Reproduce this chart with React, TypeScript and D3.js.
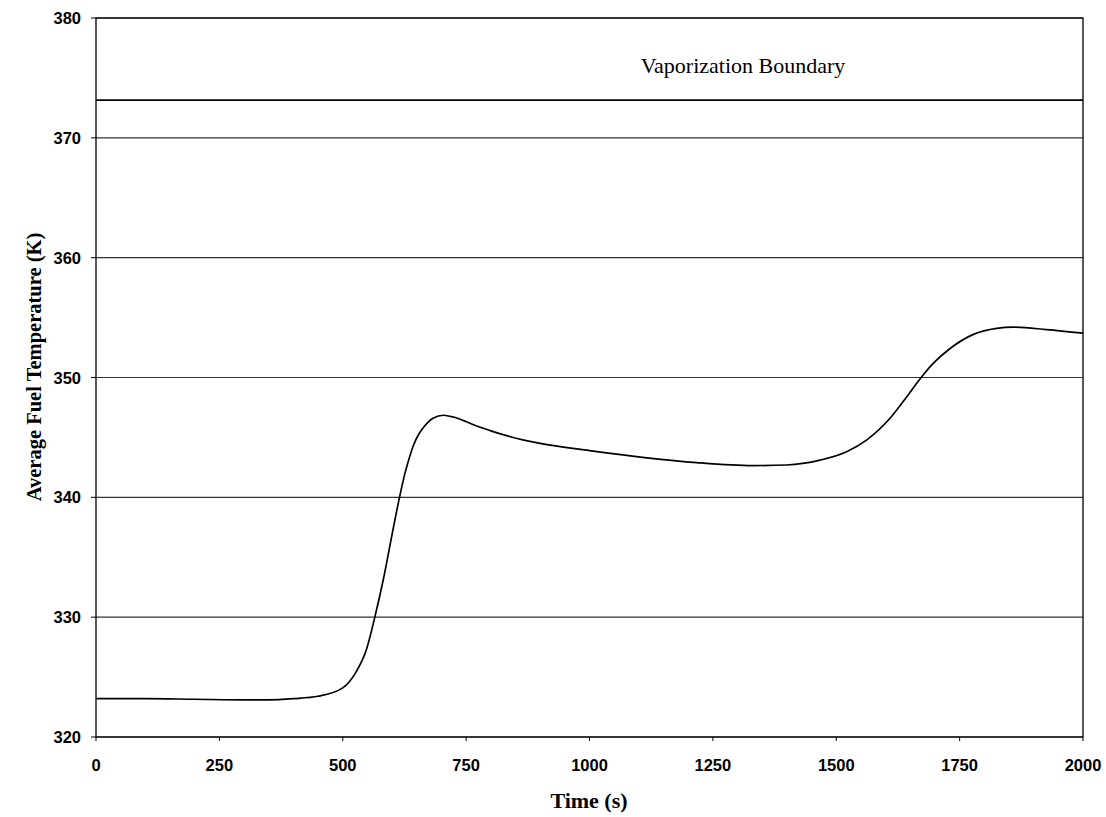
import React from "react";
import * as d3 from "d3";

const times = [0, 100, 200, 300, 350, 400, 450, 500, 528, 548, 565, 582, 599, 615, 626, 635, 643, 653, 663, 683, 704, 724, 745, 765, 800, 832, 900, 1000, 1116, 1217, 1332, 1400, 1467, 1521, 1562, 1609, 1643, 1670, 1697, 1730, 1778, 1825, 1859, 1926, 2000];
const temps = [323.2, 323.2, 323.15, 323.1, 323.1, 323.2, 323.4, 324.1, 325.5, 327.3, 330.0, 333.1, 336.7, 340.0, 342.0, 343.3, 344.3, 345.2, 345.8, 346.6, 346.85, 346.7, 346.4, 346.05, 345.55, 345.15, 344.5, 343.9, 343.3, 342.9, 342.65, 342.7, 343.1, 343.8, 344.8, 346.6, 348.4, 349.9, 351.2, 352.4, 353.6, 354.1, 354.2, 354.0, 353.7];
const xTicks = [0, 250, 500, 750, 1000, 1250, 1500, 1750, 2000];
const yTicks = [320, 330, 340, 350, 360, 370, 380];
const vaporizationTemp = 373.15;
const vaporizationLabel = "Vaporization Boundary";
const xTitle = "Time (s)";
const yTitle = "Average Fuel Temperature (K)";

export default function App() {
  const W = 1106, H = 817;
  const left = 96, right = 1083, top = 18, bottom = 737;
  const x = d3.scaleLinear().domain([0, 2000]).range([left, right]);
  const y = d3.scaleLinear().domain([320, 380]).range([bottom, top]);
  const pts: [number, number][] = times.map((t, i) => [t, temps[i]]);
  const line = d3.line<[number, number]>().x(d => x(d[0])).y(d => y(d[1])).curve(d3.curveMonotoneX);
  const sans = "'Liberation Sans', Arial, sans-serif";
  const serif = "'Liberation Serif', 'Times New Roman', serif";
  return (
    <svg width={W} height={H} style={{ position: "absolute", left: 0, top: 0, background: "#fff" }}>
      <rect x={0} y={0} width={W} height={H} fill="#fff" />
      {yTicks.map(v => (
        <g key={"y" + v}>
          <line x1={left} x2={right} y1={y(v)} y2={y(v)} stroke="#333" strokeWidth={1.2} />
          <line x1={left - 5} x2={left} y1={y(v)} y2={y(v)} stroke="#000" strokeWidth={1} />
          <text x={81} y={y(v) + 6} textAnchor="end" fontFamily={sans} fontWeight="bold" fontSize={16.5} fill="#000">{v}</text>
        </g>
      ))}
      {xTicks.map(v => (
        <g key={"x" + v}>
          <line x1={x(v)} x2={x(v)} y1={bottom} y2={bottom + 4} stroke="#000" strokeWidth={1} />
          <text x={x(v)} y={771} textAnchor="middle" fontFamily={sans} fontWeight="bold" fontSize={16.5} fill="#000">{v}</text>
        </g>
      ))}
      <rect x={left} y={top} width={right - left} height={bottom - top} fill="none" stroke="#000" strokeWidth={1.3} />
      <line x1={left} x2={right} y1={y(vaporizationTemp)} y2={y(vaporizationTemp)} stroke="#000" strokeWidth={1.6} />
      <text x={743} y={73} textAnchor="middle" fontFamily={serif} fontSize={22} fill="#000">{vaporizationLabel}</text>
      <path d={line(pts) || ""} fill="none" stroke="#000" strokeWidth={1.7} />
      <text x={589} y={808} textAnchor="middle" fontFamily={serif} fontWeight="bold" fontSize={22} fill="#000">{xTitle}</text>
      <text transform={`translate(41, 367) rotate(-90)`} textAnchor="middle" fontFamily={serif} fontWeight="bold" fontSize={20.5} fill="#000">{yTitle}</text>
    </svg>
  );
}
